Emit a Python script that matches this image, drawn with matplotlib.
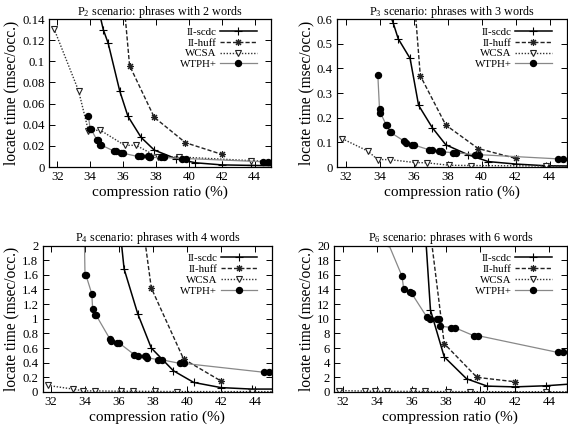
import matplotlib
matplotlib.use('Agg')
import matplotlib.pyplot as plt
from matplotlib.ticker import FuncFormatter

plt.rcParams['font.family'] = ['Liberation Serif', 'DejaVu Serif']
plt.rcParams['mathtext.fontset'] = 'custom'
plt.rcParams['mathtext.rm'] = 'Liberation Serif'
plt.rcParams['mathtext.it'] = 'Liberation Serif:italic'

# ---------------- data ----------------
series_names = ['II-scdc', 'II-huff', 'WCSA', 'WTPH+']

scdc_x = [34.3, 34.5, 34.8, 35.1, 35.8, 36.3, 37.1, 37.9, 39.2, 40.4, 42.0, 43.8, 46.5]
scdc_p2 = [0.17, 0.15, 0.130, 0.117, 0.072, 0.048, 0.028, 0.016, 0.008, 0.004, 0.002, 0.0015, 0.001]
scdc_p3 = [0.70, 0.64, 0.585, 0.52, 0.44, 0.25, 0.16, 0.09, 0.05, 0.022, 0.012, 0.005, 0.003]
scdc_p4 = [12, 8, 6, 4.5, 2.8, 1.68, 1.07, 0.6, 0.29, 0.13, 0.06, 0.04, 0.04]
scdc_p6 = [300, 200, 150, 100, 60, 40, 11.2, 4.8, 1.8, 0.8, 0.7, 0.85, 1.3]

huff_x = [35.8, 36.4, 37.9, 39.8, 42.0]
huff_p2 = [0.2, 0.096, 0.047, 0.023, 0.012]
huff_p3 = [0.9, 0.37, 0.17, 0.075, 0.035]
huff_p4 = [6, 4, 1.42, 0.45, 0.15]
huff_p6 = [150, 35, 6.6, 2.0, 1.4]

wcsa_x = [31.8, 33.3, 33.9, 34.6, 36.1, 36.8, 38.1, 39.4, 43.8, 47.0]
wcsa_p2 = [0.131, 0.072, 0.034, 0.035, 0.0205, 0.0205, 0.0095, 0.0095, 0.006, 0.004]
wcsa_p3 = [0.115, 0.065, 0.03, 0.03, 0.018, 0.017, 0.007, 0.006, 0.004, 0.003]
wcsa_p4 = [0.09, 0.04, 0.015, 0.015, 0.01, 0.01, 0.008, 0.006, 0.005, 0.005]
wcsa_p6 = [0.2, 0.12, 0.1, 0.1, 0.08, 0.07, 0.06, 0.05, 0.03, 0.03]

wtph_x = [33.9, 34.0, 34.05, 34.4, 34.45, 34.6, 34.65, 35.45, 35.55, 35.9, 36.0,
          36.9, 37.1, 37.5, 37.6, 37.65, 38.3, 38.5, 39.6, 39.85, 44.5, 44.8]
wtph_p2 = [0.048, 0.036, 0.036, 0.026, 0.026, 0.021, 0.021, 0.015, 0.015, 0.013, 0.013,
           0.010, 0.010, 0.010, 0.009, 0.009, 0.009, 0.009, 0.008, 0.008, 0.005, 0.005]
wtph_p3 = [0.375, 0.235, 0.22, 0.17, 0.17, 0.14, 0.14, 0.105, 0.098, 0.09, 0.09,
           0.07, 0.067, 0.065, 0.065, 0.062, 0.058, 0.058, 0.05, 0.05, 0.033, 0.033]
wtph_p4 = [3.0, 1.6, 1.6, 1.34, 1.13, 1.05, 1.05, 0.73, 0.69, 0.67, 0.67,
           0.51, 0.49, 0.49, 0.49, 0.47, 0.44, 0.44, 0.39, 0.39, 0.27, 0.27]
wtph_p6 = [60, 45, 44, 30, 29, 21, 20.3, 15.8, 14.0, 13.7, 13.5,
           10.2, 9.9, 9.9, 9.9, 9.0, 8.8, 8.8, 7.7, 7.7, 5.4, 5.4]

titles = ['P$_2$ scenario: phrases with 2 words', 'P$_3$ scenario: phrases with 3 words',
          'P$_4$ scenario: phrases with 4 words', 'P$_6$ scenario: phrases with 6 words']
y_max = [0.14, 0.6, 2, 20]
y_step = [0.02, 0.1, 0.2, 2]
x_ticks = [32, 34, 36, 38, 40, 42, 44]
x_label = 'compression ratio (%)'
y_label = 'locate time (msec/occ.)'

panels = [
    (scdc_p2, huff_p2, wcsa_p2, wtph_p2),
    (scdc_p3, huff_p3, wcsa_p3, wtph_p3),
    (scdc_p4, huff_p4, wcsa_p4, wtph_p4),
    (scdc_p6, huff_p6, wcsa_p6, wtph_p6),
]

# ---------------- layout ----------------
W, H = 568, 428
fig = plt.figure(figsize=(W / 100, H / 100), dpi=100)
boxes = [(49, 271, 19, 167), (337, 566.5, 19, 167),
         (42.5, 272, 245.5, 392), (334, 566.5, 245.5, 392)]

fmt = FuncFormatter(lambda v, p: '%g' % round(v, 6))

for i, (l, r, t, b) in enumerate(boxes):
    ax = fig.add_axes([l / W, 1 - b / H, (r - l) / W, (b - t) / H])
    s, h, w, p = panels[i]
    ax.plot(scdc_x, s, color='black', lw=1.1, marker='+', ms=5.5, mew=0.8,
            label=series_names[0])
    ax.plot(huff_x, h, color='#222222', lw=1.0, ls=(0, (3, 1.5)), marker=(8, 2, 0),
            ms=5, mew=0.8, label=series_names[1])
    ax.plot(wcsa_x, w, color='#333333', lw=1.0, ls=(0, (1, 1.2)), marker='v', ms=4.5,
            mfc='white', mec='#222222', mew=0.8, label=series_names[2])
    ax.plot(wtph_x, p, color='#888888', lw=0.9, marker='o', ms=4.3, mfc='black',
            mec='black', label=series_names[3])
    ax.set_xlim(31.5, 45)
    ax.set_ylim(0, y_max[i])
    ax.set_xticks(x_ticks)
    n = int(round(y_max[i] / y_step[i]))
    ax.set_yticks([k * y_step[i] for k in range(n + 1)])
    ax.yaxis.set_major_formatter(fmt)
    ax.tick_params(direction='in', length=4, width=0.7, top=True, right=True,
                   labelsize=9.2, pad=3)
    for sp in ax.spines.values():
        sp.set_linewidth(0.9)
    ax.set_title(titles[i], fontsize=8.7, pad=3)
    ax.set_xlabel(x_label, fontsize=11, labelpad=2)
    ax.set_ylabel(y_label, fontsize=11.2, labelpad=2)
    ax.legend(loc='upper right', bbox_to_anchor=(0.955, 0.975), borderaxespad=0,
              frameon=False, markerfirst=False, fontsize=7.8,
              handlelength=3.4, labelspacing=0.12, handletextpad=0.3)

fig.savefig('out.png', dpi=100)
